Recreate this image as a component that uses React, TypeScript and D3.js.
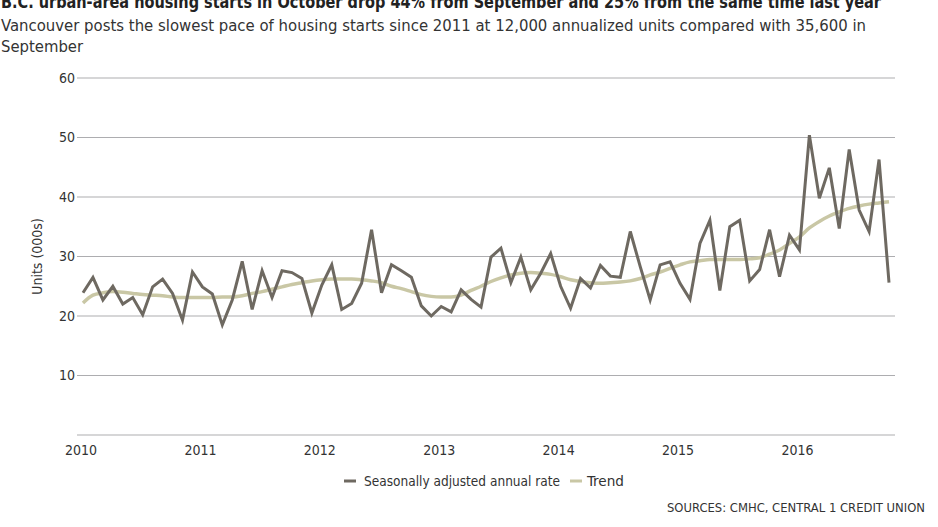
import React from "react";
import * as d3 from "d3";

const startYear = 2010;
const saar: number[] = [
  23.9, 26.5, 22.7, 25.0, 22.0, 23.1, 20.2, 24.9, 26.2, 23.8, 19.3, 27.4,
  24.9, 23.7, 18.5, 22.7, 29.2, 21.1, 27.6, 23.1, 27.6, 27.3, 26.3, 20.5,
  25.2, 28.6, 21.1, 22.1, 25.5, 34.5, 23.9, 28.6, 27.6, 26.5, 21.7, 20.0,
  21.6, 20.7, 24.4, 22.8, 21.5, 29.9, 31.4, 25.6, 29.9, 24.4, 27.2, 30.5,
  25.0, 21.3, 26.3, 24.7, 28.5, 26.7, 26.5, 34.2, 28.3, 22.7, 28.6, 29.1,
  25.5, 22.8, 32.2, 36.1, 24.3, 35.0, 36.1, 25.9, 27.8, 34.5, 26.6, 33.6,
  31.1, 50.4, 39.8, 44.9, 34.7, 48.0, 37.8, 34.2, 46.3, 25.6,
];
const trend: number[] = [
  22.2, 23.5, 23.9, 24.1, 24.0, 23.8, 23.6, 23.5, 23.4, 23.2, 23.1, 23.1,
  23.1, 23.1, 23.2, 23.2, 23.4, 23.8, 24.1, 24.5, 24.9, 25.3, 25.6, 25.9,
  26.1, 26.2, 26.2, 26.2, 26.1, 25.9, 25.6, 25.0, 24.6, 24.1, 23.6, 23.3,
  23.2, 23.2, 23.5, 24.3, 25.0, 25.8, 26.4, 26.9, 27.2, 27.3, 27.2, 27.0,
  26.6, 26.1, 25.8, 25.6, 25.5, 25.6, 25.7, 25.9, 26.3, 26.9, 27.4, 28.0,
  28.6, 29.1, 29.3, 29.5, 29.5, 29.5, 29.5, 29.6, 29.8, 30.4, 31.1, 32.2,
  33.3, 34.8, 35.9, 36.8, 37.5, 38.1, 38.5, 38.8, 39.0, 39.2,
];
const yearLabels: string[] = ["2010", "2011", "2012", "2013", "2014", "2015", "2016"];
const yTicks: number[] = [0, 10, 20, 30, 40, 50, 60];

const title =
  "B.C. urban-area housing starts in October drop 44% from September and 25% from the same time last year";
const subtitle1 =
  "Vancouver posts the slowest pace of housing starts since 2011 at 12,000 annualized units compared with 35,600 in";
const subtitle2 = "September";
const legendItems = ["Seasonally adjusted annual rate", "Trend"];
const source = "SOURCES: CMHC, CENTRAL 1 CREDIT UNION";

const W = 938;
const H = 527;
const FONT = "'Liberation Sans Narrow', 'DejaVu Sans Condensed', 'Roboto Condensed', sans-serif";
const SAAR_COLOR = "#6e6961";
const TREND_COLOR = "#c9c7a5";

export default function App() {
  const x = d3.scaleLinear().domain([0, saar.length - 1]).range([83, 889]);
  const y = d3.scaleLinear().domain([0, 60]).range([435, 78]);
  const idx = saar.map((_, i) => i);

  const saarLine = d3
    .line<number>()
    .x((i) => x(i))
    .y((i) => y(saar[i]))
    .curve(d3.curveLinear);
  const trendLine = d3
    .line<number>()
    .x((i) => x(i))
    .y((i) => y(trend[i]))
    .curve(d3.curveMonotoneX);

  return (
    <div style={{ position: "absolute", left: 0, top: 0, width: W, height: H, background: "#fff" }}>
      <svg width={W} height={H} style={{ display: "block" }} fontFamily={FONT}>
        <text x={1} y={8} fontSize={17} fontWeight="bold" fill="#222" textLength={880} lengthAdjust="spacingAndGlyphs">
          {title}
        </text>
        <text x={1} y={31} fontSize={16.5} fill="#333" textLength={865} lengthAdjust="spacingAndGlyphs">
          {subtitle1}
        </text>
        <text x={1} y={52} fontSize={16.5} fill="#333">
          {subtitle2}
        </text>

        {yTicks.map((t) => (
          <g key={t}>
            <line x1={77} x2={895} y1={y(t)} y2={y(t)} stroke="#adadb0" strokeWidth={1.2} />
            {t > 0 && (
              <text x={75} y={y(t)} dy="0.35em" textAnchor="end" fontSize={14} fill="#333">
                {t}
              </text>
            )}
          </g>
        ))}

        <text
          transform={`translate(37,${y(30)}) rotate(-90)`}
          textAnchor="middle"
          dy="0.35em"
          fontSize={14}
          fill="#333"
        >
          Units (000s)
        </text>

        {yearLabels.map((lab, k) => (
          <text key={lab} x={x(k * 12) - 2} y={450} dy="0.35em" textAnchor="middle" fontSize={14} fill="#333">
            {lab}
          </text>
        ))}

        <path d={trendLine(idx) || ""} fill="none" stroke={TREND_COLOR} strokeWidth={3.5} strokeLinejoin="round" />
        <path d={saarLine(idx) || ""} fill="none" stroke={SAAR_COLOR} strokeWidth={3} strokeLinejoin="miter" />

        <g fontSize={14} fill="#333">
          <line x1={344} x2={356} y1={481} y2={481} stroke={SAAR_COLOR} strokeWidth={3} />
          <text x={364} y={481} dy="0.35em" textLength={196} lengthAdjust="spacingAndGlyphs">
            {legendItems[0]}
          </text>
          <line x1={570} x2={582} y1={481} y2={481} stroke={TREND_COLOR} strokeWidth={3} />
          <text x={587} y={481} dy="0.35em" textLength={37} lengthAdjust="spacingAndGlyphs">
            {legendItems[1]}
          </text>
        </g>

        <text x={925} y={507} dy="0.35em" textAnchor="end" fontSize={13} fill="#333" textLength={258} lengthAdjust="spacingAndGlyphs">
          {source}
        </text>
      </svg>
    </div>
  );
}
